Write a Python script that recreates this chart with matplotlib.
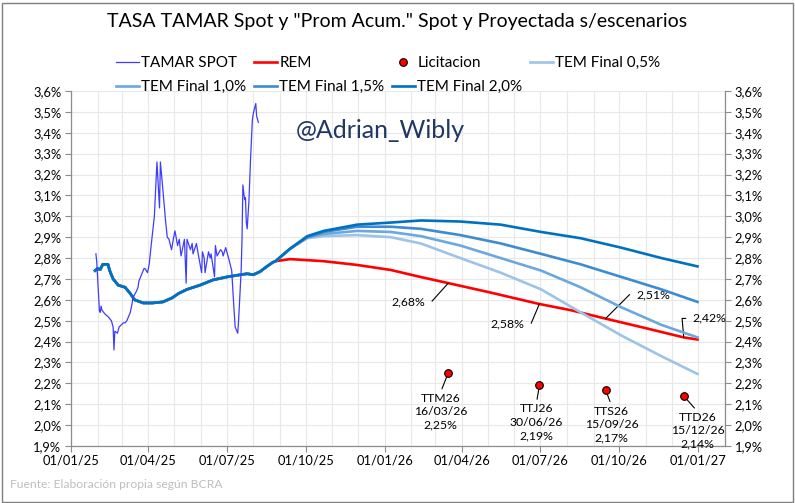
import matplotlib
matplotlib.use("Agg")
import matplotlib.pyplot as plt
import matplotlib.dates as mdates
from matplotlib.lines import Line2D
from matplotlib.patches import Rectangle
from matplotlib.ticker import FixedLocator, FuncFormatter
import pandas as pd

plt.rcParams['font.family'] = ['Lato', 'DejaVu Sans']

# --- data ---
spot_dates = ["2025-01-30", "2025-01-31", "2025-02-03", "2025-02-04", "2025-02-05", "2025-02-06",
              "2025-02-10", "2025-02-13", "2025-02-17", "2025-02-19", "2025-02-20", "2025-02-21",
              "2025-02-24", "2025-02-26", "2025-03-03", "2025-03-05", "2025-03-07", "2025-03-11",
              "2025-03-13", "2025-03-14", "2025-03-18", "2025-03-20", "2025-03-21", "2025-03-25",
              "2025-03-27", "2025-03-28", "2025-03-31", "2025-04-02", "2025-04-04", "2025-04-08",
              "2025-04-11", "2025-04-14", "2025-04-15", "2025-04-17", "2025-04-21", "2025-04-23",
              "2025-04-25", "2025-04-28", "2025-04-30", "2025-05-02", "2025-05-05", "2025-05-07",
              "2025-05-09", "2025-05-13", "2025-05-15", "2025-05-16", "2025-05-20", "2025-05-22",
              "2025-05-23", "2025-05-27", "2025-05-29", "2025-06-02", "2025-06-03", "2025-06-05",
              "2025-06-06", "2025-06-10", "2025-06-12", "2025-06-13", "2025-06-17", "2025-06-18",
              "2025-06-20", "2025-06-24", "2025-06-26", "2025-06-27", "2025-06-30", "2025-07-02",
              "2025-07-04", "2025-07-07", "2025-07-09", "2025-07-11", "2025-07-14", "2025-07-15",
              "2025-07-16", "2025-07-18", "2025-07-19", "2025-07-20", "2025-07-22", "2025-07-23",
              "2025-07-24", "2025-07-25", "2025-07-27", "2025-07-29", "2025-07-31", "2025-08-01",
              "2025-08-04", "2025-08-05", "2025-08-07"]
spot_vals = [2.82, 2.78, 2.55, 2.54, 2.57, 2.55,
             2.53, 2.52, 2.50, 2.47, 2.36, 2.45,
             2.44, 2.47, 2.49, 2.49, 2.50, 2.54,
             2.58, 2.61, 2.64, 2.66, 2.69, 2.73,
             2.75, 2.75, 2.73, 2.77, 2.85, 3.00,
             3.26, 3.04, 3.26, 3.17, 2.98, 2.90,
             2.89, 2.84, 2.89, 2.93, 2.86, 2.89,
             2.81, 2.89, 2.68, 2.89, 2.84, 2.87,
             2.82, 2.87, 2.82, 2.73, 2.83, 2.80,
             2.73, 2.83, 2.80, 2.82, 2.71, 2.86,
             2.81, 2.84, 2.83, 2.81, 2.85, 2.82,
             2.79, 2.74, 2.60, 2.47, 2.44, 2.50,
             2.58, 2.74, 2.89, 3.15, 3.08, 3.09,
             2.97, 2.94, 3.07, 3.28, 3.46, 3.49,
             3.54, 3.48, 3.45]

# "Prom Acum." observed part (shared by REM and all TEM scenarios)
hist_dates = ["2025-01-29", "2025-02-01", "2025-02-04", "2025-02-07", "2025-02-13", "2025-02-15",
              "2025-02-19", "2025-02-25", "2025-03-05", "2025-03-11", "2025-03-16", "2025-03-26",
              "2025-04-06", "2025-04-18", "2025-04-29", "2025-05-06", "2025-05-16", "2025-05-31",
              "2025-06-15", "2025-07-02", "2025-07-17", "2025-07-25", "2025-08-01", "2025-08-09",
              "2025-08-17", "2025-08-24", "2025-08-27"]
hist_vals = [2.74, 2.75, 2.745, 2.77, 2.77, 2.74,
             2.70, 2.67, 2.66, 2.63, 2.60, 2.585,
             2.585, 2.59, 2.61, 2.63, 2.65, 2.67,
             2.695, 2.71, 2.72, 2.725, 2.72, 2.735,
             2.76, 2.78, 2.785]

rem_dates = ["2025-09-13", "2025-10-22", "2025-11-30", "2026-01-08", "2026-02-11", "2026-03-16",
             "2026-05-04", "2026-06-30", "2026-08-06", "2026-09-15", "2026-10-26", "2026-12-15",
             "2026-12-31"]
rem_vals = [2.795, 2.785, 2.767, 2.743, 2.71, 2.68,
            2.635, 2.58, 2.55, 2.51, 2.47, 2.42,
            2.41]

proj_dates = ["2025-09-13", "2025-10-03", "2025-10-22", "2025-11-30", "2026-01-08", "2026-02-12",
              "2026-03-30", "2026-05-16", "2026-07-02", "2026-08-17", "2026-10-03", "2026-11-19",
              "2026-12-31"]
tem_05 = [2.845, 2.895, 2.905, 2.91, 2.90, 2.87, 2.80, 2.73, 2.65, 2.54, 2.43, 2.33, 2.245]
tem_10 = [2.845, 2.90, 2.915, 2.93, 2.925, 2.905, 2.86, 2.80, 2.74, 2.66, 2.565, 2.48, 2.42]
tem_15 = [2.845, 2.90, 2.925, 2.95, 2.95, 2.94, 2.91, 2.87, 2.82, 2.77, 2.71, 2.65, 2.59]
tem_20 = [2.845, 2.905, 2.93, 2.96, 2.97, 2.98, 2.975, 2.96, 2.925, 2.895, 2.85, 2.80, 2.76]

lic_names = ["TTM26", "TTJ26", "TTS26", "TTD26"]
lic_dates = ["2026-03-16", "2026-06-30", "2026-09-15", "2026-12-15"]
lic_vals = [2.25, 2.19, 2.17, 2.14]
rem_lbl_vals = [2.68, 2.58, 2.51, 2.42]

# --- figure ---
W, H = 795, 503
fig = plt.figure(figsize=(W / 100, H / 100), dpi=100)
ax = fig.add_axes([71 / W, 1 - 446 / H, (725 - 71) / W, (446 - 91) / H])

hd = pd.to_datetime(hist_dates)

def join(vals, dates):
    return list(hd) + list(pd.to_datetime(dates)), hist_vals + vals

x, y = join(rem_vals, rem_dates)
ax.plot(x, y, color='#FF0000', lw=1.9, zorder=3)
tem_series = [(tem_05, '#9DC3E6'), (tem_10, '#6AA8DE'), (tem_15, '#3D8BD0'), (tem_20, '#0070C0')]
for vals, c in tem_series:
    x, y = join(vals, proj_dates)
    ax.plot(x, y, color=c, lw=1.9, zorder=4)

ax.plot(pd.to_datetime(spot_dates), spot_vals, color='#3D3DFF', lw=0.9, zorder=5)

ld = pd.to_datetime(lic_dates)
ax.plot(ld, lic_vals, 'o', color='#FF0000', mec='black', mew=0.8, ms=5.5, zorder=6, ls='none')

# licitacion labels
lic_off = [(-8, -20), (-3, -18), (6, -16), (14, -16)]
for d, v, n, off in zip(ld, lic_vals, lic_names, lic_off):
    lbl = f"{n}\n{d.strftime('%d/%m/%y')}\n{v:.2f}%".replace('.', ',')
    ax.annotate(lbl, xy=(d, v), xytext=off, textcoords='offset pixels',
                ha='center', va='top', fontsize=8.8, linespacing=1.25,
                arrowprops=dict(arrowstyle='-', color='black', lw=0.8,
                                shrinkA=1, shrinkB=3, relpos=(0.5, 1)))

# REM labels with callout lines
rem_off = [(-40, -19), (-32, -20), (48, 24), (26, 19)]
rem_rel = [(1, 0.5), (1, 0.5), (0, 0.5), (0, 0.5)]
rem_ang = [48, 67, 45, 95]
for d, v, off, rp, ang in zip(ld, rem_lbl_vals, rem_off, rem_rel, rem_ang):
    ax.annotate(f"{v:.2f}%".replace('.', ','), xy=(d, v), xytext=off, textcoords='offset pixels',
                ha='center', va='center', fontsize=8.8,
                arrowprops=dict(arrowstyle='-', color='black', lw=0.8, shrinkA=3, shrinkB=0,
                                relpos=rp,
                                connectionstyle=f"angle,angleA=0,angleB={ang},rad=0"))

# axes styling
ax.set_xlim(pd.Timestamp("2025-01-01"), pd.Timestamp("2027-02-01"))
ax.set_ylim(1.9, 3.6)
yt = [1.9 + 0.1 * i for i in range(18)]
ax.yaxis.set_major_locator(FixedLocator(yt))
ax.yaxis.set_major_formatter(FuncFormatter(lambda v, p: f"{v:.1f}%".replace('.', ',')))
ax.xaxis.set_major_locator(mdates.MonthLocator(bymonth=[1, 4, 7, 10]))
ax.xaxis.set_minor_locator(mdates.MonthLocator())
ax.xaxis.set_major_formatter(mdates.DateFormatter('%d/%m/%y'))
ax.grid(True, which='both', color='#E8E8E8', lw=0.8, zorder=0)
ax.set_axisbelow(True)
ax.tick_params(axis='y', which='both', left=True, right=True, labelleft=True, labelright=True,
               direction='out', length=4, color='#8C8C8C', labelsize=9.3, pad=3)
ax.tick_params(axis='x', which='major', direction='out', length=4, color='#8C8C8C', labelsize=9.3, pad=2)
ax.tick_params(axis='x', which='minor', length=0)
ax.spines['top'].set_visible(False)
for s in ['left', 'right', 'bottom']:
    ax.spines[s].set_color('#8C8C8C')
    ax.spines[s].set_linewidth(0.9)

# legend, row-major order for 4 columns
h_spot = Line2D([], [], color='#3D3DFF', lw=0.9)
h_rem = Line2D([], [], color='#FF0000', lw=1.9)
h_lic = Line2D([], [], marker='o', color='#FF0000', mec='black', mew=0.8, ms=5.5, ls='none')
h_tem = [Line2D([], [], color=c, lw=1.9) for _, c in tem_series]
handles = [h_spot, h_tem[1], h_rem, h_tem[2], h_lic, h_tem[3], h_tem[0]]
labels = ["TAMAR SPOT", "TEM Final 1,0%", "REM", "TEM Final 1,5%", "Licitacion", "TEM Final 2,0%", "TEM Final 0,5%"]
fig.legend(handles, labels, loc='upper left', bbox_to_anchor=(116 / W, 1 - 56 / H), ncol=4,
           frameon=False, fontsize=11, handlelength=1.5, handletextpad=0.15,
           columnspacing=0.5, labelspacing=0.65, borderpad=0, borderaxespad=0)

fig.text(0.5, 1 - 22 / H, 'TASA TAMAR Spot y "Prom Acum." Spot y Proyectada s/escenarios',
         ha='center', va='center', fontsize=14)
fig.text(380 / W, 1 - 130 / H, '@Adrian_Wibly', ha='center', va='center', fontsize=18, color='#1F3864')
fig.text(10 / W, 1 - 484 / H, 'Fuente: Elaboración propia según BCRA', ha='left', va='center',
         fontsize=8.7, color='#BFBFBF')

fig.patches.append(Rectangle((1.5 / W, 1.5 / H), 1 - 4 / W, 1 - 4 / H, transform=fig.transFigure,
                             fill=False, edgecolor='#7F7F7F', lw=1))

fig.savefig('out.png', dpi=100)
